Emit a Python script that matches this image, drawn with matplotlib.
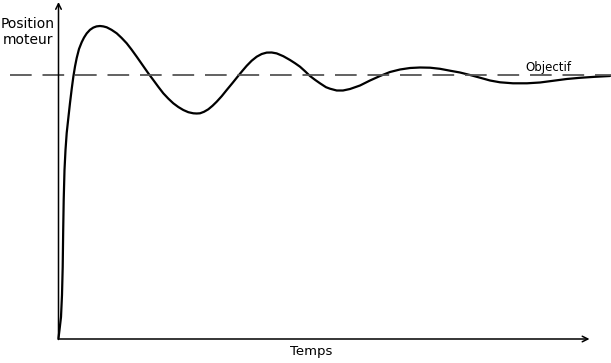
import matplotlib
matplotlib.use("Agg")
import matplotlib.pyplot as plt

# step response: time from the origin, position above the time axis
temps = [0, 1.0, 2.5, 3.5, 4.2, 4.7, 5.2, 6.0, 7.0, 8.2, 9.8, 11.5, 13.2, 14.8,
         16.5, 18.2, 20.5, 23.2, 25.5, 28.2, 31.5, 34.8, 38.0, 41.5, 44.8, 48.2,
         53.0, 58.2, 63.0, 68.2, 73.0, 78.2, 84.0, 89.8, 94.8, 99.8, 104.8,
         109.8, 114.8, 119.8, 124.8, 129.8, 134.8, 138.2, 141.5, 145.5, 149.8,
         154.0, 158.2, 163.2, 168.2, 174.0, 179.8, 184.0, 188.2, 193.2, 198.2,
         203.2, 208.2, 213.2, 218.2, 224.8, 231.5, 236.5, 241.5, 246.5, 251.5,
         256.5, 261.5, 267.5, 271.5, 278.2, 284.5, 291.5, 301.5, 311.5, 321.5,
         331.5, 341.5, 351.5, 361.5, 371.5, 381.5, 391.5, 401.5, 411.5, 421.5,
         431.5, 441.5, 454.5, 468.5, 481.5, 494.5, 508.2, 521.5, 536.5, 551.5]
position = [1, 9, 22, 44, 72, 109, 139, 169, 189, 206, 220.7, 236, 250, 262,
            272.5, 281, 290, 296.8, 301.4, 305.6, 309.2, 311.4, 312.6, 313, 312.6,
            311.7, 309.2, 305.7, 301.2, 295.7, 289.5, 282.3, 274, 265.7, 259,
            252.2, 245.7, 240.4, 235.7, 232, 229, 226.8, 225.7, 225.5, 225.7,
            227.2, 229.7, 233.2, 237.3, 242.8, 249, 256, 263.2, 268.3, 273.2,
            278.3, 282.3, 285, 286.4, 286.5, 285.6, 282.8, 279, 275.8, 272.3,
            267.8, 263, 259.2, 255.7, 251.8, 250.3, 248.5, 248.5, 250, 253.5,
            258.5, 263, 267, 269.5, 271, 271.5, 271.3, 270.2, 268.3, 266.5, 264,
            261.3, 258.5, 256.7, 255.7, 255.7, 256.5, 258.2, 260, 261.2, 262.2,
            263]
objectif = 263.7

fig = plt.figure(figsize=(6.11, 3.63), dpi=100)
ax = fig.add_axes([0, 0, 1, 1])
ax.set_xlim(-58.5, 611 - 58.5)
ax.set_ylim(-24, 339)
ax.axis("off")

ax.plot(temps, position, color="black", lw=1.6, solid_joinstyle="round",
        solid_capstyle="round")
ax.plot([-48.5, 552.5], [objectif, objectif], color="#555555", lw=1.3,
        dashes=(12, 6))

# axes with open arrows
ax.annotate("", xy=(531, 0), xytext=(-0.5, 0),
            arrowprops=dict(arrowstyle="->", lw=1.1, color="black",
                            shrinkA=0, shrinkB=0, mutation_scale=10))
ax.annotate("", xy=(0, 337), xytext=(0, -0.5),
            arrowprops=dict(arrowstyle="->", lw=1.1, color="black",
                            shrinkA=0, shrinkB=0, mutation_scale=10))

ax.text(489.5, objectif + 4, "Objectif", fontsize=8.5, ha="center",
        va="baseline")
ax.text(-30.5, 322, "Position\nmoteur", fontsize=10, ha="center", va="top",
        linespacing=1.15)
ax.text(252.5, -16.5, "Temps", fontsize=9.5, ha="center", va="baseline")

fig.savefig("out.png", dpi=100)
